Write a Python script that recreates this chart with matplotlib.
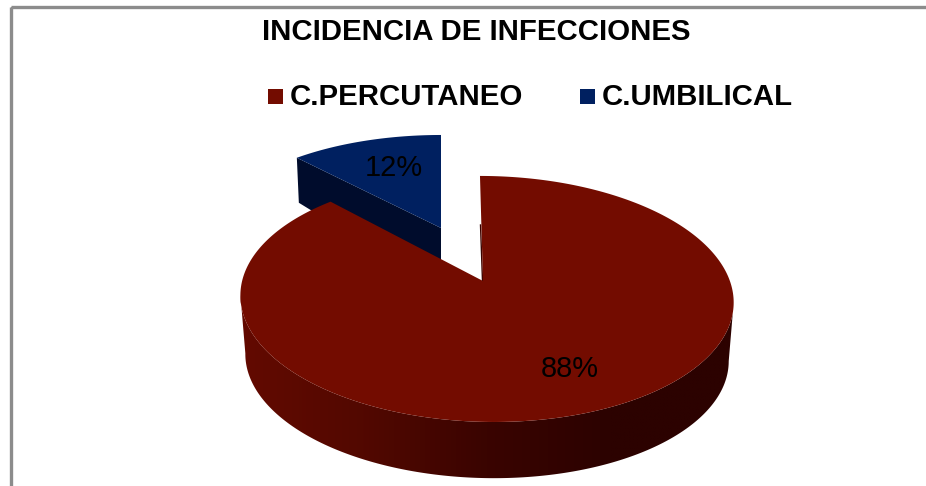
import matplotlib
matplotlib.use("Agg")
import matplotlib.pyplot as plt
from matplotlib.patches import Polygon, Rectangle
from matplotlib.colors import LinearSegmentedColormap
import numpy as np

titleText = "INCIDENCIA DE INFECCIONES"
categories = ["C.PERCUTANEO", "C.UMBILICAL"]
values = [88, 12]
pctLabels = ["88%", "12%"]
colors = ["#730c00", "#002060"]
wallColors = ["#2c0200", "#000c2c"]
rimShades = ["#630a00", "#520800", "#3a0400", "#2c0200", "#2c0200"]

plt.rcParams['font.family'] = ['Liberation Sans', 'DejaVu Sans']

# fake 3d pie, perspective squeezes the back of the disc
PERSP = 0.146

def project(theta, apexX, apexY, radX, radY, shear = 0.0) :
    u = np.sin(theta)
    v = np.cos(theta)
    d = 1 + PERSP * v
    x = (radX * u + (apexX * PERSP + shear) * v + apexX) / d
    y = apexY - radY * v / d
    return x, y

fig = plt.figure(figsize=(9.26, 4.86), dpi=100)
axes = fig.add_axes([0, 0, 1, 1])
axes.set_xlim(0, 926)
axes.set_ylim(486, 0)
axes.axis("off")

# chart frame, cut off by the picture on the right and at the bottom
axes.add_patch(Rectangle((10.8, 7), 930, 500, fill=False, edgecolor="#8c8c8c", linewidth=2.4))

fractions = np.array(values) / sum(values)
redEnd = 2 * np.pi * fractions[0]

# small slice, pulled out of the pie
blueAngles = np.linspace(redEnd, 2 * np.pi, 60)
blueX, blueY = project(blueAngles, 441, 228, 233, 106.6)
cornerX, cornerY = blueX[0], blueY[0]
axes.add_patch(Polygon([(cornerX, cornerY), (441, 228), (441, 290), (cornerX + 2, cornerY + 45)],
                       facecolor=wallColors[1], edgecolor="none", zorder=2))
axes.add_patch(Polygon(list(zip(blueX, blueY)) + [(441, 228)], facecolor=colors[1], edgecolor="none", zorder=3))

# rim of the large slice, gradient runs left to right
rimAngles = np.linspace(0, redEnd, 400)
topX, topY = project(rimAngles, 486, 281, 243.9, 120.4, -6.9)
lowX, lowY = project(rimAngles, 486, 340, 239, 118, -6.9)
topA, topB = np.argmax(topX), np.argmin(topX)
lowA, lowB = np.argmax(lowX), np.argmin(lowX)
rimOutline = list(zip(topX[topA:topB + 1], topY[topA:topB + 1])) + list(zip(lowX[lowA:lowB + 1][::-1], lowY[lowA:lowB + 1][::-1]))
rimPatch = Polygon(rimOutline, facecolor="none", edgecolor="none", transform=axes.transData)
axes.add_patch(rimPatch)
rimCmap = LinearSegmentedColormap.from_list("rim", rimShades)
rimImage = axes.imshow(np.linspace(0, 1, 256).reshape(1, -1), cmap=rimCmap, extent=(240, 733, 486, 280),
                       aspect="auto", zorder=4, interpolation="bilinear")
rimImage.set_clip_path(rimPatch)
axes.set_xlim(0, 926)
axes.set_ylim(486, 0)

# top face of the large slice
axes.add_patch(Polygon(list(zip(topX, topY)) + [(483, 281)], facecolor=colors[0], edgecolor="none", zorder=5))
axes.plot([480.5, 482.5], [225, 281], color="#3a0400", linewidth=1.0, zorder=4.5)

axes.text(570, 369, pctLabels[0], fontsize=20.9, color="black", ha="center", va="center", zorder=6)
axes.text(394, 168, pctLabels[1], fontsize=20.9, color="black", ha="center", va="center", zorder=6)

axes.text(476, 32.5, titleText, fontsize=21.2, fontweight="bold", color="black", ha="center", va="center", zorder=6)

# legend
legendBoxX = [268, 580]
legendTextX = [290, 602]
for i in range(len(categories)) :
    axes.add_patch(Rectangle((legendBoxX[i], 89), 15, 15, facecolor=colors[i], edgecolor="none", zorder=6))
    axes.text(legendTextX[i], 96.5, categories[i], fontsize=21.2, fontweight="bold", color="black", ha="left", va="center", zorder=6)

fig.savefig("out.png", dpi=100)
